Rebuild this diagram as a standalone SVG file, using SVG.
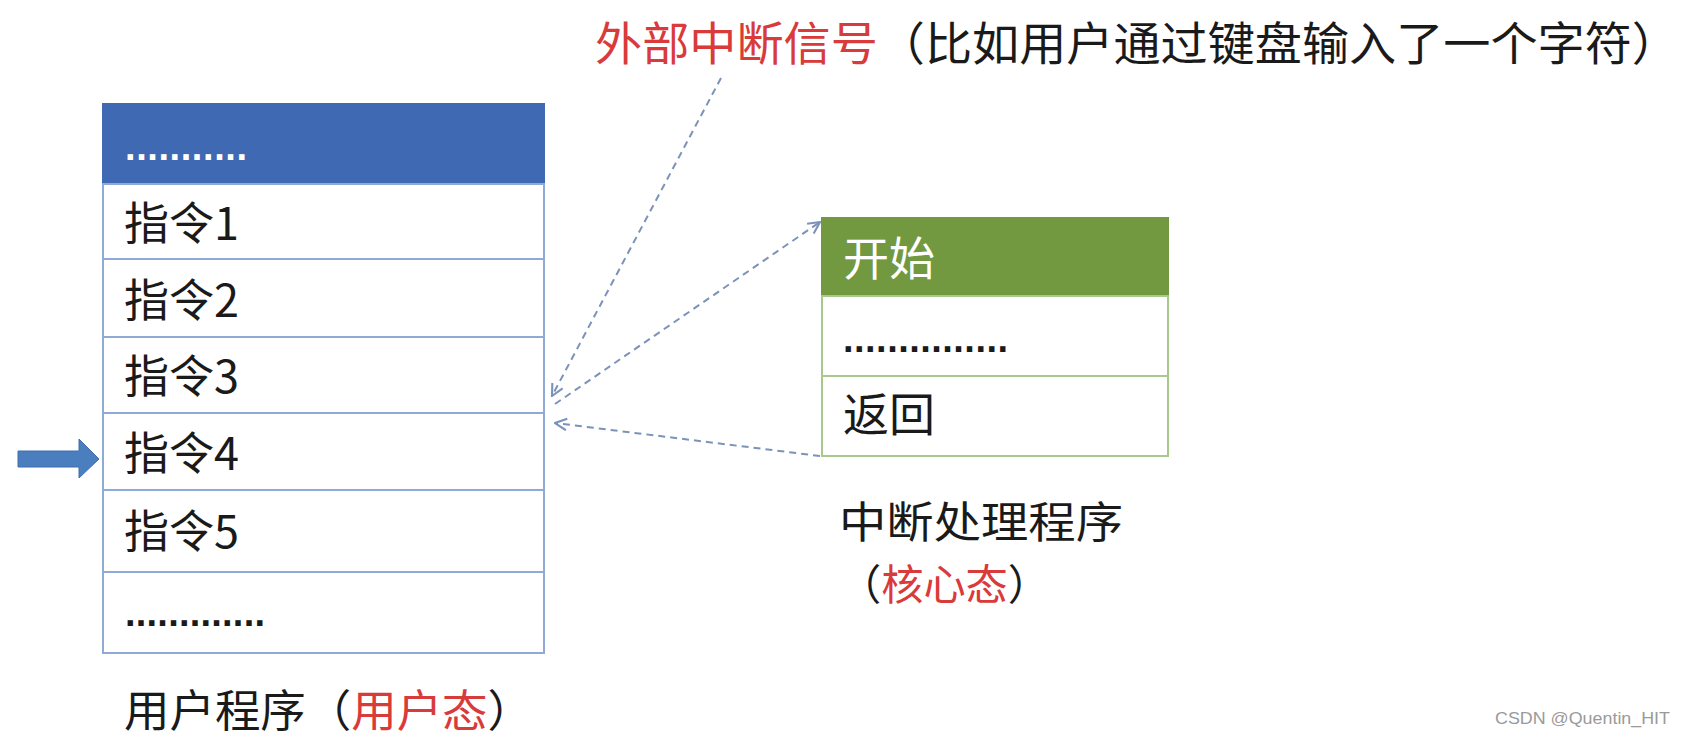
<svg xmlns="http://www.w3.org/2000/svg" width="1688" height="747" viewBox="0 0 1688 747">
<style>
.cjk{font-family:"Noto Sans CJK SC","Noto Sans",sans-serif;}
.blk{fill:#1a1a1a;}
.red{fill:#d93a3a;}
.wht{fill:#ffffff;}
.cell{fill:#ffffff;stroke:#8faad6;stroke-width:2;}
.gcell{fill:#ffffff;stroke:#a9c98c;stroke-width:2;}
.conn{fill:none;stroke:#7b93b9;stroke-width:2;stroke-dasharray:7 5;}
.dots{font-family:"Liberation Sans",sans-serif;font-weight:bold;}
</style>
<defs>
<marker id="ah" viewBox="0 0 12 12" refX="11" refY="6" markerWidth="14" markerHeight="14" markerUnits="userSpaceOnUse" orient="auto">
<path d="M1,1 L11,6 L1,11" fill="none" stroke="#7b93b9" stroke-width="1.8"/>
</marker>
</defs>
<rect x="0" y="0" width="1688" height="747" fill="#ffffff"/>

<g id="title">
<text class="cjk" x="595" y="60" font-size="46" textLength="1084" lengthAdjust="spacingAndGlyphs"><tspan class="red">外部中断信号</tspan><tspan class="blk">（比如用户通过键盘输入了一个字符）</tspan></text>
</g>

<g id="user-program">
<rect x="103" y="104" width="441" height="80" fill="#3f69b3" stroke="#3f69b3" stroke-width="2"/>
<rect class="cell" x="103" y="184" width="441" height="75"/>
<rect class="cell" x="103" y="259" width="441" height="78"/>
<rect class="cell" x="103" y="337" width="441" height="76"/>
<rect class="cell" x="103" y="413" width="441" height="77"/>
<rect class="cell" x="103" y="490" width="441" height="82"/>
<rect class="cell" x="103" y="572" width="441" height="81"/>
<text class="dots wht" x="125" y="160" font-size="38" textLength="122" lengthAdjust="spacing">...........</text>
<text class="cjk blk" x="124" y="240" font-size="45">指令1</text>
<text class="cjk blk" x="124" y="317" font-size="45">指令2</text>
<text class="cjk blk" x="124" y="393" font-size="45">指令3</text>
<text class="cjk blk" x="124" y="470" font-size="45">指令4</text>
<text class="cjk blk" x="124" y="548" font-size="45">指令5</text>
<text class="dots blk" x="125" y="626" font-size="38" textLength="140" lengthAdjust="spacing">.............</text>
<text class="cjk" x="124" y="727" font-size="44" textLength="409" lengthAdjust="spacingAndGlyphs"><tspan class="blk">用户程序（</tspan><tspan class="red">用户态</tspan><tspan class="blk">）</tspan></text>
</g>

<g id="pc-arrow">
<path d="M18,451 L79,451 L79,439 L99,459 L79,478 L79,467 L18,467 Z" fill="#4a7ebf" stroke="#3f6fae" stroke-width="1"/>
</g>

<g id="interrupt-handler">
<rect x="822" y="218" width="346" height="78" fill="#72993f" stroke="#72993f" stroke-width="2"/>
<rect class="gcell" x="822" y="296" width="346" height="80"/>
<rect class="gcell" x="822" y="376" width="346" height="80"/>
<text class="cjk wht" x="843" y="275" font-size="46">开始</text>
<text class="dots blk" x="843" y="352" font-size="38" textLength="165" lengthAdjust="spacing">...............</text>
<text class="cjk blk" x="843" y="431" font-size="46">返回</text>
<text class="cjk blk" x="839" y="538" font-size="43" textLength="284" lengthAdjust="spacingAndGlyphs">中断处理程序</text>
<text class="cjk" x="839" y="600" font-size="42" textLength="211" lengthAdjust="spacingAndGlyphs"><tspan class="blk">（</tspan><tspan class="red">核心态</tspan><tspan class="blk">）</tspan></text>
</g>

<g id="connectors">
<line class="conn" x1="721" y1="78" x2="552" y2="396" marker-end="url(#ah)"/>
<line class="conn" x1="555" y1="404" x2="820" y2="222" marker-end="url(#ah)"/>
<line class="conn" x1="820" y1="456" x2="555" y2="423" marker-end="url(#ah)"/>
</g>

<g id="watermark">
<text x="1495" y="724" font-family="Liberation Sans, sans-serif" font-size="17" fill="#9a9a9a" textLength="175" lengthAdjust="spacingAndGlyphs">CSDN @Quentin_HIT</text>
</g>
</svg>
